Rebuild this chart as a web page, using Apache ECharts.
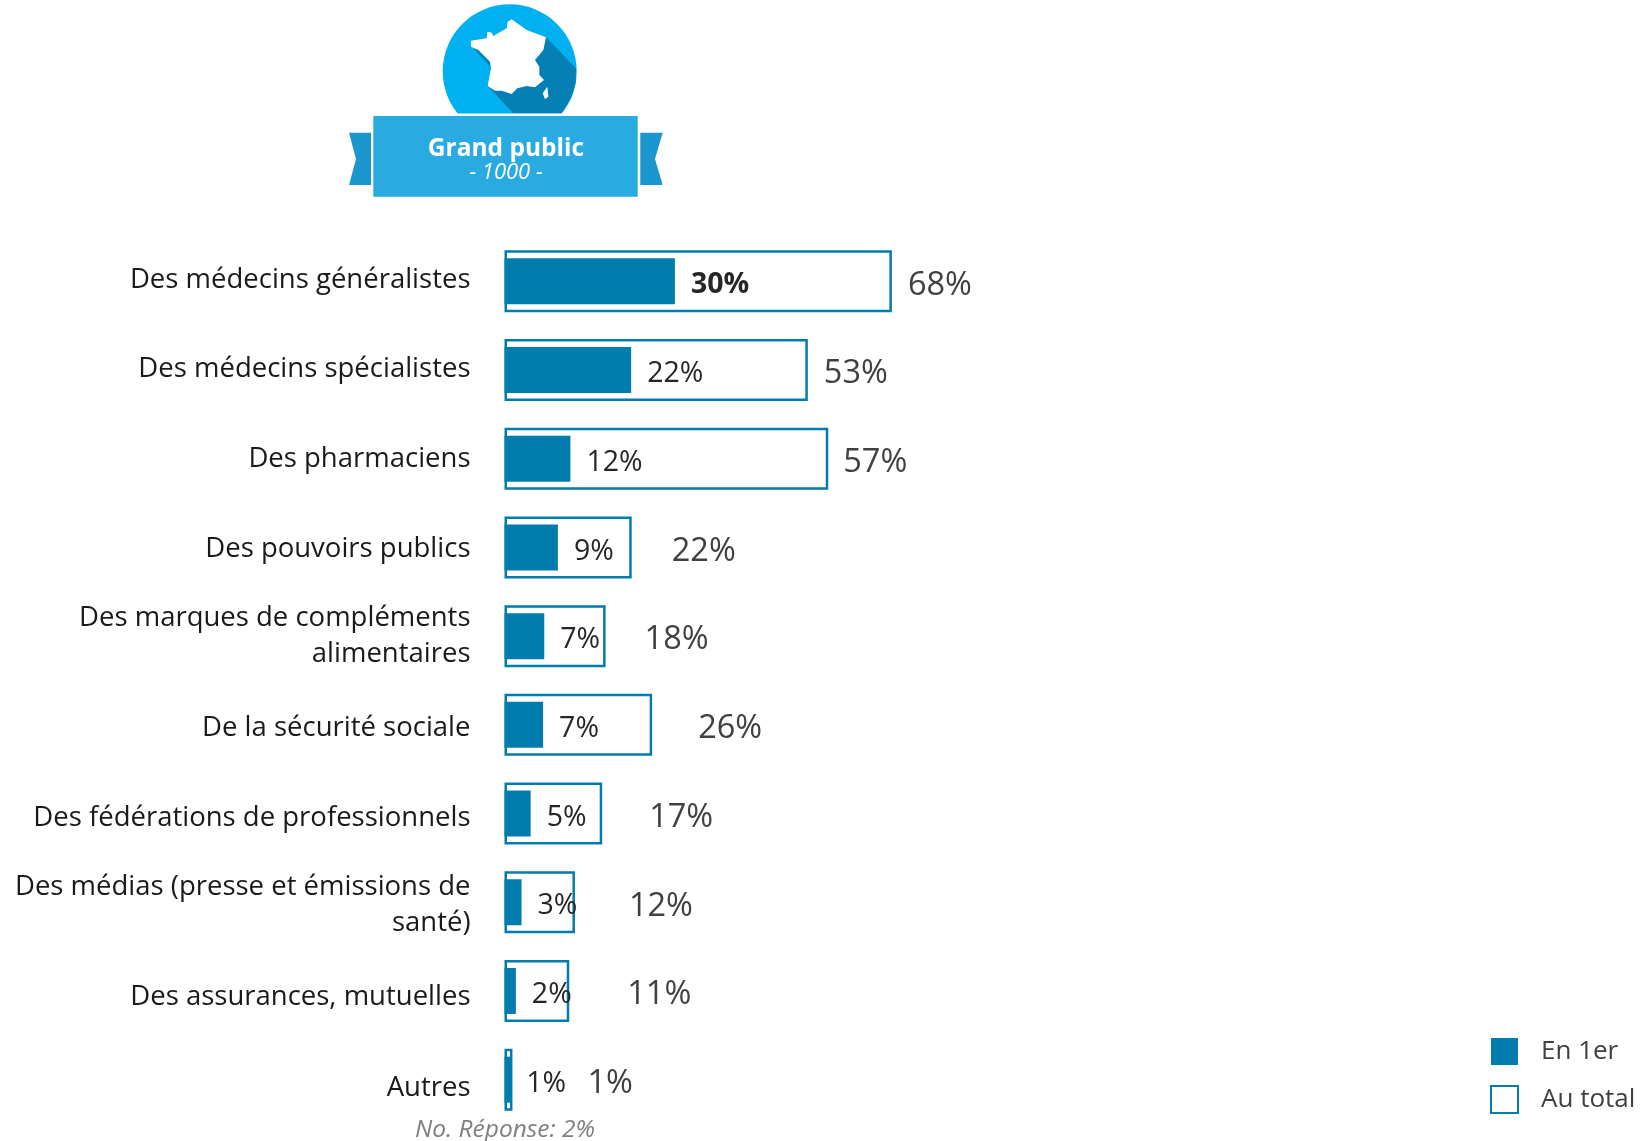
<!DOCTYPE html>
<html>
<head>
<meta charset="utf-8">
<style>
  html, body { margin: 0; padding: 0; background: #fff; }
  #main { width: 1650px; height: 1141px; }
</style>
<script src="https://cdn.jsdelivr.net/npm/echarts@6/dist/echarts.min.js"></script>
</head>
<body>
<div id="main"></div>
<script>
const categories = [
  'Des médecins généralistes',
  'Des médecins spécialistes',
  'Des pharmaciens',
  'Des pouvoirs publics',
  'Des marques de compléments\nalimentaires',
  'De la sécurité sociale',
  'Des fédérations de professionnels',
  'Des médias (presse et émissions de\nsanté)',
  'Des assurances, mutuelles',
  'Autres'
]
const enPremier = [30, 22.3, 11.6, 9.4, 7, 6.8, 4.6, 3, 2, 1]
const auTotal = [68.2, 53.4, 57, 22.4, 17.8, 26, 17.2, 12.4, 11.4, 1.4]
// ecart du label "au total" par rapport a la barre (pas regulier dans l'original)
const totalLabelGap = [16, 16, 15, 40, 39, 46, 47, 54, 58, 75]
// decalage vertical des libelles de categorie
const labelDrop = [-1, -1, 0, 2, 0, 3, 4.5, 3, 6, 8]

const BLUE = '#027BAD'
const FONT = '"Open Sans", "Noto Sans", sans-serif'

const z = (pts) => pts.map((p) => [p[0] / 3 + 330, p[1] / 3])
const francePts = z([[545, 58], [590, 90], [648, 112], [640, 150], [615, 180], [628, 200], [628, 225], [642, 240], [615, 262], [590, 258], [562, 265], [545, 282], [515, 272], [495, 272], [473, 258], [483, 205], [480, 185], [445, 150], [423, 140], [422, 122], [470, 115], [472, 95], [485, 98], [490, 108], [530, 85], [533, 65]])
const corsePts = z([[652, 260], [655, 290], [645, 297], [638, 280]])
const shadowPts = z([[648, 112], [738, 205], [737, 250], [725, 290], [695, 340], [550, 340], [473, 258], [615, 180]])
const shadowWest = z([[430, 145], [445, 150], [480, 185], [482, 200]])

const chart = echarts.init(document.getElementById('main'), null, { renderer: 'canvas' })

const poly = (points, fill) => ({ type: 'polygon', shape: { points }, style: { fill } })
const rect = (x, y, width, height, fill) => ({ type: 'rect', shape: { x, y, width, height }, style: { fill } })
const valueLabel = (p) => Math.round(p.value) + '%'

const catStyle = { fontFamily: FONT, fontSize: 27.5, color: '#1a1a1a', align: 'right' }
const catRich = { line2: { ...catStyle, padding: [7.5, 0, 0, 0] } }
labelDrop.forEach((d, i) => {
  const shift = d * 2.1
  catRich['d' + i] = { ...catStyle, padding: shift > 0 ? [shift, 0, 0, 0] : [0, 0, -shift, 0] }
})

chart.setOption({
  animation: false,
  backgroundColor: '#fff',
  grid: { left: 504.5, top: 237, width: 568, height: 887, containLabel: false },
  xAxis: { type: 'value', min: 0, max: 100, show: false },
  yAxis: [
    {
      type: 'category',
      inverse: true,
      data: categories,
      axisLine: { show: false },
      axisTick: { show: false },
      axisLabel: {
        margin: 34,
        align: 'right',
        interval: 0,
        rich: catRich,
        formatter: (value, i) => value.split('\n').map((line, n) => `{${n === 0 ? 'd' + i : 'line2'}|${line}}`).join('\n')
      }
    },
    {
      type: 'category',
      inverse: true,
      data: categories,
      show: false
    }
  ],
  legend: {
    left: 1490,
    top: 1038,
    padding: 0,
    orient: 'vertical',
    itemWidth: 27,
    itemHeight: 27,
    itemGap: 20,
    icon: 'rect',
    selectedMode: false,
    data: ['En 1er', 'Au total'],
    textStyle: { fontFamily: FONT, fontSize: 26, color: '#404040', padding: [0, 0, 0, 18] }
  },
  series: [
    {
      name: 'Au total',
      type: 'bar',
      yAxisIndex: 0,
      barWidth: 62,
      z: 2,
      itemStyle: { color: '#fff', borderColor: BLUE, borderWidth: 2.5 },
      label: {
        show: true,
        position: 'right',
        offset: [0, 4],
        formatter: valueLabel,
        fontFamily: FONT,
        fontSize: 32.5,
        color: '#404040'
      },
      data: auTotal.map((value, i) => ({ value, label: { distance: totalLabelGap[i] } }))
    },
    {
      name: 'En 1er',
      type: 'bar',
      yAxisIndex: 1,
      barWidth: 46,
      z: 3,
      itemStyle: { color: BLUE },
      label: {
        show: true,
        position: 'right',
        offset: [0, 4],
        distance: 16,
        formatter: valueLabel,
        fontFamily: FONT,
        fontSize: 28.5,
        color: '#262626'
      },
      data: enPremier.map((value, i) => (i === 0 ? { value, label: { fontWeight: 'bold' } } : value))
    }
  ],
  graphic: [
    { type: 'circle', shape: { cx: 509.7, cy: 71.3, r: 67 }, style: { fill: '#00B0F0' }, z: 10 },
    { type: 'polygon', shape: { points: shadowPts }, style: { fill: '#0580B4' }, z: 11 },
    { type: 'polygon', shape: { points: shadowWest }, style: { fill: '#0580B4' }, z: 11 },
    { type: 'polygon', shape: { points: francePts }, style: { fill: '#fff' }, z: 12 },
    { type: 'polygon', shape: { points: corsePts }, style: { fill: '#fff' }, z: 12 },
    { ...rect(430, 113.5, 160, 3, '#fff'), z: 13 },
    { ...rect(373.3, 116, 264.4, 80.7, '#29ABE2'), z: 14 },
    { ...poly([[349, 132.7], [371, 132.7], [371, 185], [349, 185], [356, 159]], '#1B96CE'), z: 14 },
    { ...poly([[640.3, 132.7], [662.7, 132.7], [655, 159], [662.7, 185], [640.3, 185]], '#1B96CE'), z: 14 },
    {
      type: 'text',
      z: 15,
      x: 506,
      y: 149,
      style: { text: 'Grand public', fill: '#fff', font: 'bold 24.5px ' + FONT, textAlign: 'center', textVerticalAlign: 'middle' }
    },
    {
      type: 'text',
      z: 15,
      x: 506,
      y: 173,
      style: { text: '- 1000 -', fill: '#fff', font: 'italic 22px ' + FONT, textAlign: 'center', textVerticalAlign: 'middle' }
    },
    {
      type: 'text',
      z: 15,
      x: 505,
      y: 1130,
      style: { text: 'No. Réponse: 2%', fill: '#7f7f7f', font: 'italic 24.5px ' + FONT, textAlign: 'center', textVerticalAlign: 'middle' }
    }
  ]
})
</script>
</body>
</html>
